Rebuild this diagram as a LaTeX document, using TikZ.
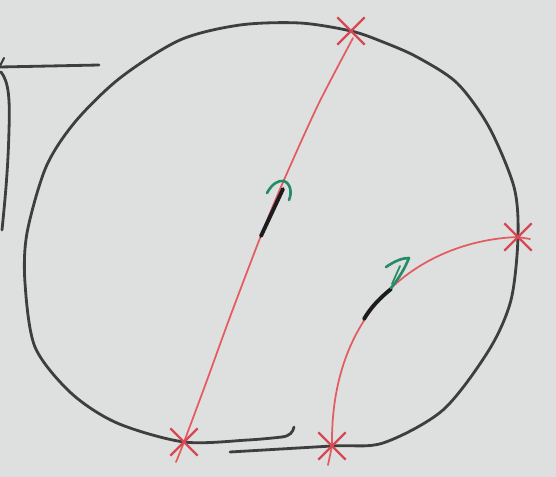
\documentclass[tikz,border=0pt]{standalone}
\usepackage{tikz}
\usetikzlibrary{shapes.misc}
\definecolor{Paper}{RGB}{222,224,223}
\definecolor{Pencil}{RGB}{62,62,62}
\definecolor{RedInk}{RGB}{228,92,96}
\definecolor{CrossInk}{RGB}{214,72,84}
\definecolor{GreenInk}{RGB}{38,140,104}
\definecolor{BlackInk}{RGB}{28,28,30}

\begin{document}
\begin{tikzpicture}[
    x=0.02cm, y=-0.02cm,
    pencil/.style={draw=Pencil, line width=1.6pt, line cap=round, line join=round},
    redline/.style={draw=RedInk, line width=1pt, line cap=round},
    crossmark/.style={draw=CrossInk, cross out, line width=1.3pt, minimum size=0.5cm, inner sep=0pt},
    flow/.style={draw=BlackInk, line width=2.2pt, line cap=round},
    head/.style={draw=GreenInk, line width=1.5pt, line cap=round, line join=round}
]
    % paper
    \fill[Paper] (0,0) rectangle (556,477);
    \useasboundingbox (0,0) rectangle (556,477);

    % points where the red curves meet the boundary
    \coordinate (top) at (351,31);
    \coordinate (right) at (518,237);
    \coordinate (botL) at (184,442);
    \coordinate (botR) at (332,446);

    % the bracket in the corner
    \draw[pencil] (99,65) -- (0,67);
    \draw[pencil, line width=1.2pt] (4,58) -- (0,66);
    \draw[pencil] (1,72) .. controls (9,82) and (10,100) .. (9,130)
        .. controls (8,170) and (5,200) .. (2,230);

    % boundary of the region
    \draw[pencil] plot[smooth] coordinates {
        (230,452) (botR) (383,443) (443,410) (489,350) (511,300) (right)
        (514,187) (489,127) (457,83) (417,57) (383,42) (top) (300,23)
        (240,25) (180,40) (120,78) (75,122) (46,167) (27,233) (25,283)
        (35,347) (71,393) (117,423) (botL) (248,440) (282,437)};
    \draw[pencil] (282,437) .. controls (290,436) and (293,432) .. (294,427);

    % red curves
    \draw[redline] plot[smooth] coordinates {
        (353,38) (318,105) (284,180) (262,233) (230,317) (206,383) (botL) (176,462)};
    \draw[redline] (530,239) -- (right) .. controls (430,240) and (330,300) .. (botR) -- (328,465);

    % crossings
    \foreach \p in {top,right,botL,botR}
        \node[crossmark] at (\p) {};

    % direction of travel
    \draw[flow] (261,236) -- (283,189);
    \draw[head] (267,193) .. controls (272,184) and (278,180) .. (284,181)
        .. controls (291,184) and (292,193) .. (289,200);
    \draw[flow] (364,319) .. controls (371,307) and (380,298) .. (391,289);
    \draw[head] (386,267) .. controls (395,261) and (402,258) .. (409,258)
        .. controls (404,270) and (399,278) .. (391,288);
    \draw[head, line width=1pt] (400,266) -- (392,284);
\end{tikzpicture}
\end{document}
